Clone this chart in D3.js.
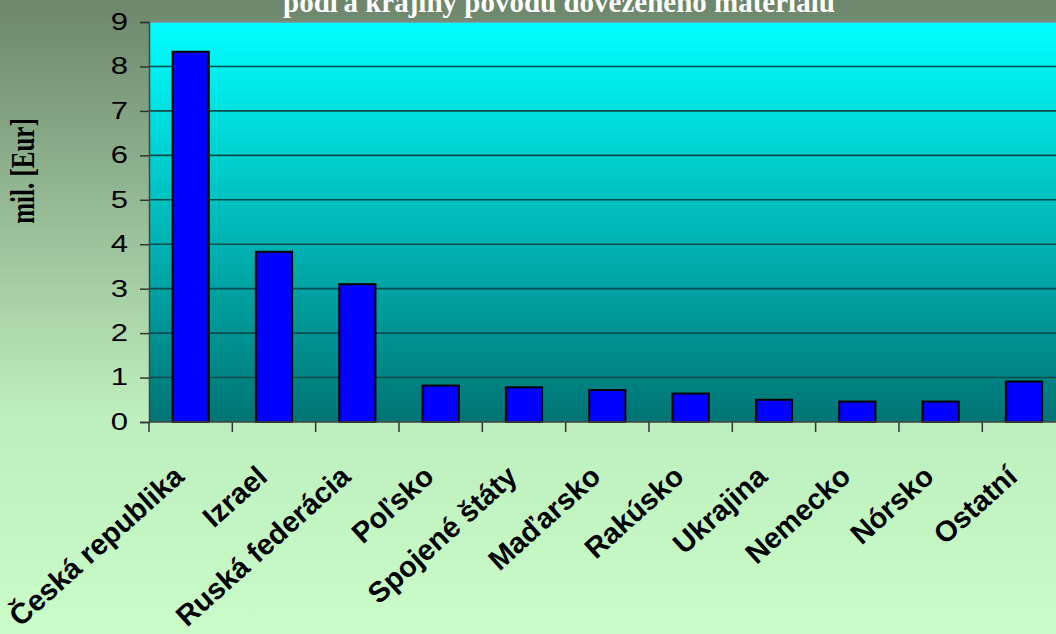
<!DOCTYPE html>
<html>
<head>
<meta charset="utf-8">
<script src="https://cdn.jsdelivr.net/npm/d3@7"></script>
<style>
    body { margin: 0; overflow: hidden; }
    svg { display: block; }
</style>
</head>
<body>
<div id="graph"></div>
<script>
// DONNEES DU GRAPHE
let pays = ['Česká republika', 'Izrael', 'Ruská federácia', 'Poľsko', 'Spojené štáty',
    'Maďarsko', 'Rakúsko', 'Ukrajina', 'Nemecko', 'Nórsko', 'Ostatní'];
let valeurs = [8.33, 3.83, 3.10, 0.82, 0.78, 0.72, 0.64, 0.50, 0.46, 0.46, 0.91];
let yTicks = [0, 1, 2, 3, 4, 5, 6, 7, 8, 9];
let titre = 'podľa krajiny pôvodu dovezeného materiálu';
let yTitre = 'mil. [Eur]';

// dimensions
let largeur = 1056;
let hauteur = 634;
let gauche = 149;
let haut = 22;
let bas = 422;
let pas = 83.33;
let droite = gauche + pas * pays.length;

let svg = d3.select('#graph').append('svg')
    .attr('width', largeur)
    .attr('height', hauteur);

let defs = svg.append('defs');

let fond = defs.append('linearGradient')
    .attr('id', 'fond')
    .attr('x1', 0).attr('y1', 0).attr('x2', 0).attr('y2', 1);
fond.append('stop').attr('offset', '0%').attr('stop-color', '#6c866c');
fond.append('stop').attr('offset', '65%').attr('stop-color', '#bdeebd');
fond.append('stop').attr('offset', '100%').attr('stop-color', '#c9fcc9');

let zone = defs.append('linearGradient')
    .attr('id', 'zone')
    .attr('x1', 0).attr('y1', 0).attr('x2', 0).attr('y2', 1);
zone.append('stop').attr('offset', '0%').attr('stop-color', '#00ffff');
zone.append('stop').attr('offset', '100%').attr('stop-color', '#007474');

svg.append('rect')
    .attr('width', largeur)
    .attr('height', hauteur)
    .attr('fill', 'url(#fond)');

// echelles
let x = d3.scaleBand()
    .domain(pays)
    .range([gauche, droite])
    .paddingInner(1.3 / 2.3)
    .paddingOuter(1.3 / 2.3 / 2);

let y = d3.scaleLinear()
    .domain([0, 9])
    .range([bas, haut]);

svg.append('rect')
    .attr('x', gauche)
    .attr('y', y(9))
    .attr('width', droite - gauche)
    .attr('height', y(0) - y(9))
    .attr('fill', 'url(#zone)');

// grille
svg.append('g')
    .selectAll('line')
    .data(yTicks.filter(d => d > 0 && d < 9))
    .join('line')
    .attr('x1', gauche)
    .attr('x2', droite)
    .attr('y1', d => y(d))
    .attr('y2', d => y(d))
    .attr('stroke', '#0a4c4c')
    .attr('stroke-width', 1.6);

svg.append('line')
    .attr('x1', gauche).attr('x2', droite)
    .attr('y1', y(9)).attr('y2', y(9))
    .attr('stroke', '#8a8a8a')
    .attr('stroke-width', 1.5);

// barres
svg.append('g')
    .selectAll('rect')
    .data(valeurs)
    .join('rect')
    .attr('x', (d, i) => x(pays[i]))
    .attr('y', d => y(d))
    .attr('width', x.bandwidth())
    .attr('height', d => y(0) - y(d))
    .attr('fill', '#0000ff')
    .attr('stroke', '#000')
    .attr('stroke-width', 2);

// axe Y
let axeY = svg.append('g')
    .attr('transform', 'translate(' + gauche + ',0)')
    .call(d3.axisLeft(y).tickValues(yTicks).tickSize(9).tickFormat(d3.format('d')));
axeY.select('.domain').attr('stroke', '#444').attr('stroke-width', 1.5);
axeY.selectAll('.tick line').attr('stroke', '#333').attr('stroke-width', 1.5);
axeY.selectAll('.tick text')
    .attr('x', 0)
    .attr('transform', 'translate(-21,0) scale(1.35,1)')
    .attr('font-family', 'Liberation Sans, Arial, sans-serif')
    .attr('font-size', 23)
    .attr('fill', '#000');

// axe X
let limites = d3.range(pays.length + 1).map(i => gauche + i * pas);
svg.append('g')
    .selectAll('line')
    .data(limites)
    .join('line')
    .attr('x1', d => d).attr('x2', d => d)
    .attr('y1', bas).attr('y2', bas + 10)
    .attr('stroke', '#333')
    .attr('stroke-width', 1.5);

svg.append('line')
    .attr('x1', gauche).attr('x2', droite)
    .attr('y1', bas).attr('y2', bas)
    .attr('stroke', '#444')
    .attr('stroke-width', 1.5);

svg.append('g')
    .selectAll('text')
    .data(pays)
    .join('text')
    .attr('transform', d => 'translate(' + (x(d) + x.bandwidth() / 2 - 5) + ',' + (bas + 57) + ') rotate(-42)')
    .attr('text-anchor', 'end')
    .attr('font-family', 'Liberation Sans, Arial, sans-serif')
    .attr('font-weight', 'bold')
    .attr('font-size', 29)
    .attr('fill', '#000')
    .text(d => d);

// titres
svg.append('text')
    .attr('x', 559)
    .attr('y', 12)
    .attr('text-anchor', 'middle')
    .attr('font-family', 'Liberation Serif, Times New Roman, serif')
    .attr('font-weight', 'bold')
    .attr('font-size', 29)
    .attr('fill', '#fff')
    .text(titre);

svg.append('text')
    .attr('transform', 'translate(34,171) scale(1.35,1) rotate(-90)')
    .attr('text-anchor', 'middle')
    .attr('font-family', 'Liberation Serif, Times New Roman, serif')
    .attr('font-weight', 'bold')
    .attr('font-size', 25)
    .attr('fill', '#000')
    .text(yTitre);
</script>
</body>
</html>
